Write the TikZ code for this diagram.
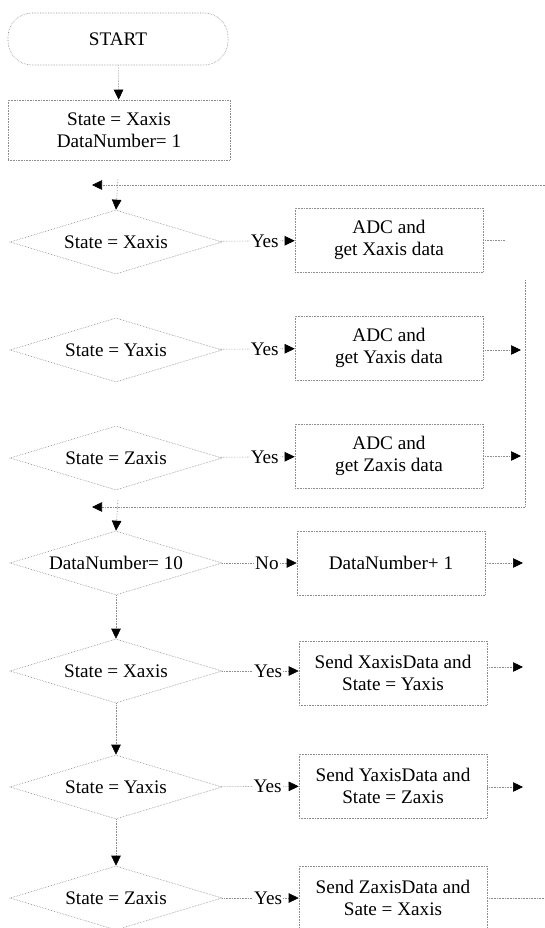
\documentclass[tikz,border=0pt]{standalone}
\usepackage{fontspec}
\setmainfont{Liberation Serif}
\usepackage{xcolor}
\usetikzlibrary{arrows.meta, shapes.geometric, positioning}
\definecolor{linegray}{RGB}{140,140,140}
\newcommand{\chartfont}{\fontsize{19.2}{22.5}\selectfont}

\begin{document}
\begin{tikzpicture}[x=1pt, y=-1pt, >={Triangle[length=10pt, width=9.5pt, color=black]},
  box/.style={rectangle, draw=linegray, line width=0.6pt, densely dotted,
    minimum width=188pt, minimum height=64pt, align=center, font=\chartfont},
  decide/.style={diamond, draw=linegray, line width=0.6pt, densely dotted,
    shape aspect=3.3, inner sep=0pt, minimum width=212pt, minimum height=64pt,
    font=\chartfont},
  flow/.style={draw=linegray, line width=0.6pt, densely dotted},
  answer/.style={fill=white, inner sep=1pt, font=\chartfont}]

  \useasboundingbox (0, 0) rectangle (545, 928);

  % Start and init
  \node[box, rounded corners=24pt, minimum width=220pt, minimum height=52pt]
    (start) at (118, 39) {START};
  \node[box, minimum width=222pt, minimum height=60pt]
    (init) at (119, 130) {State = Xaxis\\DataNumber= 1};

  % Sampling loop
  \node[decide] (d1) at (116, 242) {State = Xaxis};
  \node[decide] (d2) at (116, 350) {State = Yaxis};
  \node[decide] (d3) at (116, 458) {State = Zaxis};
  \node[box] (adcX) at (389, 240) {ADC and\\get Xaxis data};
  \node[box] (adcY) at (389, 348) {ADC and\\get Yaxis data};
  \node[box] (adcZ) at (389, 456) {ADC and\\get Zaxis data};

  % Counting and sending
  \node[decide] (d4) at (116, 563) {DataNumber= 10};
  \node[decide] (d5) at (116, 671) {State = Xaxis};
  \node[decide] (d6) at (116, 787) {State = Yaxis};
  \node[decide] (d7) at (116, 898) {State = Zaxis};
  \node[box] (count) at (391, 563) {DataNumber+ 1};
  \node[box] (sendX) at (393, 673) {Send XaxisData and\\State = Yaxis};
  \node[box] (sendY) at (393, 786) {Send YaxisData and\\State = Zaxis};
  \node[box] (sendZ) at (393, 898) {Send ZaxisData and\\Sate = Xaxis};

  % Free ends
  \coordinate (loopA)  at (545, 185);
  \coordinate (tipA)   at (92, 185);
  \coordinate (joinA)  at (118, 179);
  \coordinate (stubX)  at (505, 240);
  \coordinate (colTop) at (525, 280);
  \coordinate (colBot) at (525, 507);
  \coordinate (tipB)   at (92, 507);
  \coordinate (joinB)  at (118, 500);
  \coordinate (outY)   at (521, 350);
  \coordinate (outZ)   at (521, 456);
  \coordinate (outC)   at (523, 563);
  \coordinate (outSX)  at (523, 667);
  \coordinate (outSY)  at (523, 787);
  \coordinate (outSZ)  at (545, 898);

  % Arrows
  \draw[flow, ->] (start) -- (init);
  \draw[flow, ->] (loopA) -- (tipA);
  \draw[flow, ->] (joinA) -- (d1.north);
  \draw[flow, ->] (d1) -- node[answer, pos=0.6] {Yes} (adcX);
  \draw[flow, ->] (d2) -- node[answer, pos=0.6] {Yes} (adcY);
  \draw[flow, ->] (d3) -- node[answer, pos=0.6] {Yes} (adcZ);
  \draw[flow] (adcX) -- (stubX);
  \draw[flow, ->] (adcY.east |- outY) -- (outY);
  \draw[flow, ->] (adcZ) -- (outZ);
  \draw[flow, ->] (colTop) -- (colBot) -- (tipB);
  \draw[flow, ->] (joinB) -- (d4.north);
  \draw[flow, ->] (d4) -- node[answer, pos=0.6] {No} (count);
  \draw[flow, ->] (count) -- (outC);
  \draw[flow, ->] (d4) -- (d5);
  \draw[flow, ->] (d5) -- (d6);
  \draw[flow, ->] (d6) -- (d7);
  \draw[flow, ->] (d5.east) -- node[answer, pos=0.6] {Yes} (sendX.west |- d5.east);
  \draw[flow, ->] (d6) -- node[answer, pos=0.6] {Yes} (sendY);
  \draw[flow, ->] (d7) -- node[answer, pos=0.6] {Yes} (sendZ);
  \draw[flow, ->] (sendX.east |- outSX) -- (outSX);
  \draw[flow, ->] (sendY.east |- outSY) -- (outSY);
  \draw[flow] (sendZ) -- (outSZ);

\end{tikzpicture}
\end{document}
